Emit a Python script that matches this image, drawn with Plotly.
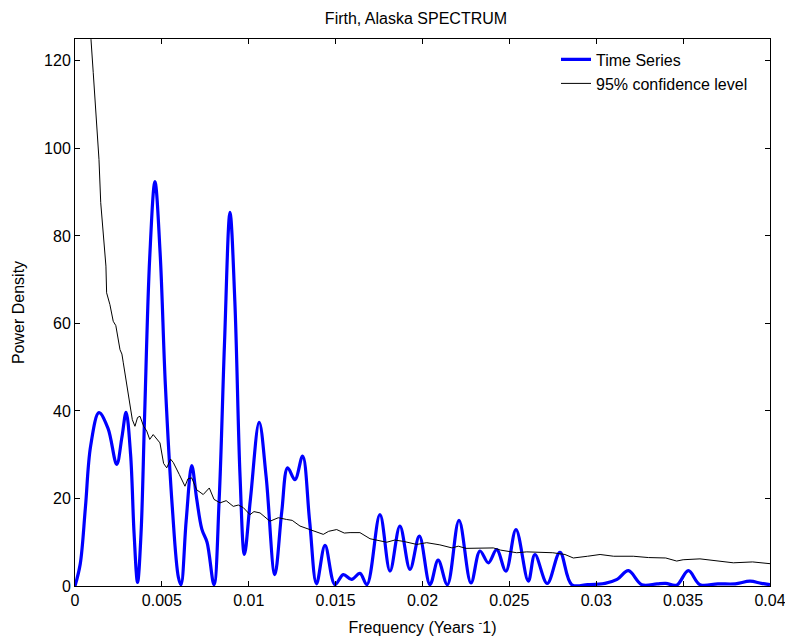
import plotly.graph_objects as go

# Power spectrum of the Firth, Alaska series
ts_freq = [0.0000, 0.0003, 0.0006, 0.0009, 0.00138, 0.0019, 0.0024, 0.0027, 0.00294, 0.0032,
           0.0034, 0.0036, 0.0038, 0.0040, 0.0043, 0.0046, 0.0049, 0.0052, 0.0056, 0.00595,
           0.0061, 0.0064, 0.00672, 0.0070, 0.0073, 0.0076, 0.0080, 0.0083, 0.0086, 0.00892,
           0.0092, 0.0095, 0.00975, 0.0101, 0.0106, 0.0110, 0.0115, 0.0119, 0.01224, 0.01266,
           0.0131, 0.0135, 0.0139, 0.01439, 0.01496, 0.01544, 0.01592, 0.0164, 0.0168, 0.01755,
           0.01813, 0.0187, 0.01928, 0.01982, 0.02043, 0.0209, 0.02143, 0.0221, 0.02279, 0.02331,
           0.02379, 0.02427, 0.0248, 0.02538, 0.02609, 0.02647, 0.02718, 0.02791, 0.02859, 0.0295,
           0.0305, 0.0312, 0.03185, 0.03262, 0.0335, 0.0340, 0.03463, 0.0353, 0.03597, 0.0370,
           0.0380, 0.03885, 0.0395, 0.0400]
ts_power = [0.0, 5, 18, 32, 39.6, 36, 27.8, 34, 39.7, 30,
            12, 0.8, 12, 38, 75, 92.4, 76, 46, 18, 2,
            0.3, 15, 27.5, 20, 13, 10, 0.3, 20, 55, 85.4,
            65, 25, 7.2, 20, 37.4, 25, 2.6, 17, 27, 24.3,
            29.7, 15, 0.5, 9.3, 0.3, 2.6, 1.5, 2.9, 0.3, 16.3,
            3.4, 13.7, 3.8, 11.4, 0.3, 5.9, 0.3, 15.0, 0.7, 8.0,
            5.3, 8.3, 3.4, 12.9, 1.1, 7.2, 0.6, 7.7, 0.3, 0.3,
            0.6, 1.5, 3.5, 0.3, 0.5, 0.6, 0.2, 3.5, 0.3, 0.5,
            0.5, 1.1, 0.6, 0.3]

# 95% confidence level curve
ci_freq = [0.00080, 0.00092, 0.00105, 0.00121, 0.00138, 0.00148, 0.00163, 0.00178, 0.00182, 0.00201,
           0.0022, 0.00235, 0.00259, 0.00270, 0.00278, 0.00307, 0.00330, 0.00345, 0.00360, 0.00374,
           0.00395, 0.00413, 0.0043, 0.0045, 0.0047, 0.00489, 0.0051, 0.00528, 0.0055, 0.00566,
           0.0060, 0.00633, 0.0065, 0.00672, 0.0070, 0.00738, 0.00773, 0.0080, 0.00835, 0.0087,
           0.00911, 0.0094, 0.00969, 0.01007, 0.0103, 0.01065, 0.01122, 0.0117, 0.01218, 0.0125,
           0.01295, 0.01353, 0.0139, 0.01429, 0.0146, 0.01506, 0.0155, 0.01583, 0.0164, 0.01698,
           0.01794, 0.0184, 0.0189, 0.01967, 0.02024, 0.0210, 0.0217, 0.02206, 0.0225, 0.02408,
           0.0245, 0.02542, 0.0260, 0.02676, 0.0275, 0.0282, 0.02868, 0.0295, 0.03022, 0.0310,
           0.03213, 0.0330, 0.0340, 0.03463, 0.0350, 0.03597, 0.0370, 0.03789, 0.0390, 0.0400]
ci_power = [140, 124.9, 117.3, 106.6, 97.5, 87.6, 79.9, 73.1, 67, 64.3,
            60.5, 59.5, 54, 53, 51, 44.1, 38, 36.5, 38.5, 38.8,
            36.5, 35.4, 33.5, 34.6, 33.5, 32.7, 28, 27, 29, 28.2,
            25.5, 22.8, 24.5, 24.7, 22, 20.9, 22.4, 19.8, 19, 19.5,
            18.2, 18.5, 17.9, 16.3, 17, 16.7, 14.8, 15.6, 15.2, 15.0,
            13.7, 12.9, 12.3, 11.8, 12.5, 12.9, 12.1, 12.2, 12.2, 10.8,
            10.0, 10.5, 10.2, 9.5, 9.9, 9.4, 8.7, 9.1, 8.6, 8.7,
            8.2, 7.6, 7.8, 7.7, 7.6, 7.2, 6.4, 6.8, 7.2, 6.8,
            6.8, 6.5, 6.4, 5.7, 6.0, 6.2, 5.8, 5.3, 5.5, 5.1]

x_ticks = [0, 0.005, 0.01, 0.015, 0.02, 0.025, 0.03, 0.035, 0.04]
x_tick_text = ["0", "0.005", "0.01", "0.015", "0.02", "0.025", "0.03", "0.035", "0.04"]
y_ticks = [0, 20, 40, 60, 80, 100, 120]
y_tick_text = ["0", "20", "40", "60", "80", "100", "120"]

FONT = "Liberation Sans, Arial, sans-serif"
TXT = dict(family=FONT, size=16, color="black")

fig = go.Figure()
fig.add_trace(go.Scatter(
    x=ts_freq, y=ts_power, mode="lines", name="Time Series", legend="legend",
    line=dict(color="#0000ff", width=3.2, shape="spline", smoothing=1.0),
))
fig.add_trace(go.Scatter(
    x=ci_freq, y=ci_power, mode="lines", name="95% confidence level", legend="legend2",
    line=dict(color="black", width=1),
))

axis_common = dict(
    showline=True, linecolor="black", linewidth=1, mirror="ticks",
    ticks="inside", ticklen=5, tickcolor="black", showgrid=False, zeroline=False,
    tickfont=TXT, automargin=False, ticklabeloverflow="allow",
)

legend_common = dict(xanchor="left", yanchor="middle", bgcolor="rgba(0,0,0,0)",
                     borderwidth=0, font=TXT, itemwidth=30)

fig.update_layout(
    width=785, height=639,
    margin=dict(l=75, r=15, t=39, b=53),
    paper_bgcolor="white", plot_bgcolor="white",
    title=dict(text="Firth, Alaska SPECTRUM", x=416 / 785, xanchor="center",
               y=1 - 18 / 639, yanchor="middle", font=TXT),
    xaxis=dict(range=[0, 0.04], tickvals=x_ticks, ticktext=x_tick_text,
               title=dict(text="Frequency (Years <sup>-</sup>1)", standoff=13, font=TXT),
               **axis_common),
    yaxis=dict(range=[0, 125], tickvals=y_ticks, ticktext=y_tick_text,
               title=dict(text="Power Density", standoff=15, font=TXT),
               **axis_common),
    legend=dict(x=(556 - 75) / 695, y=(586.5 - 60) / 547, **legend_common),
    legend2=dict(x=(556 - 75) / 695, y=(586.5 - 84) / 547, **legend_common),
    showlegend=True,
)

fig.write_html("out.html")
